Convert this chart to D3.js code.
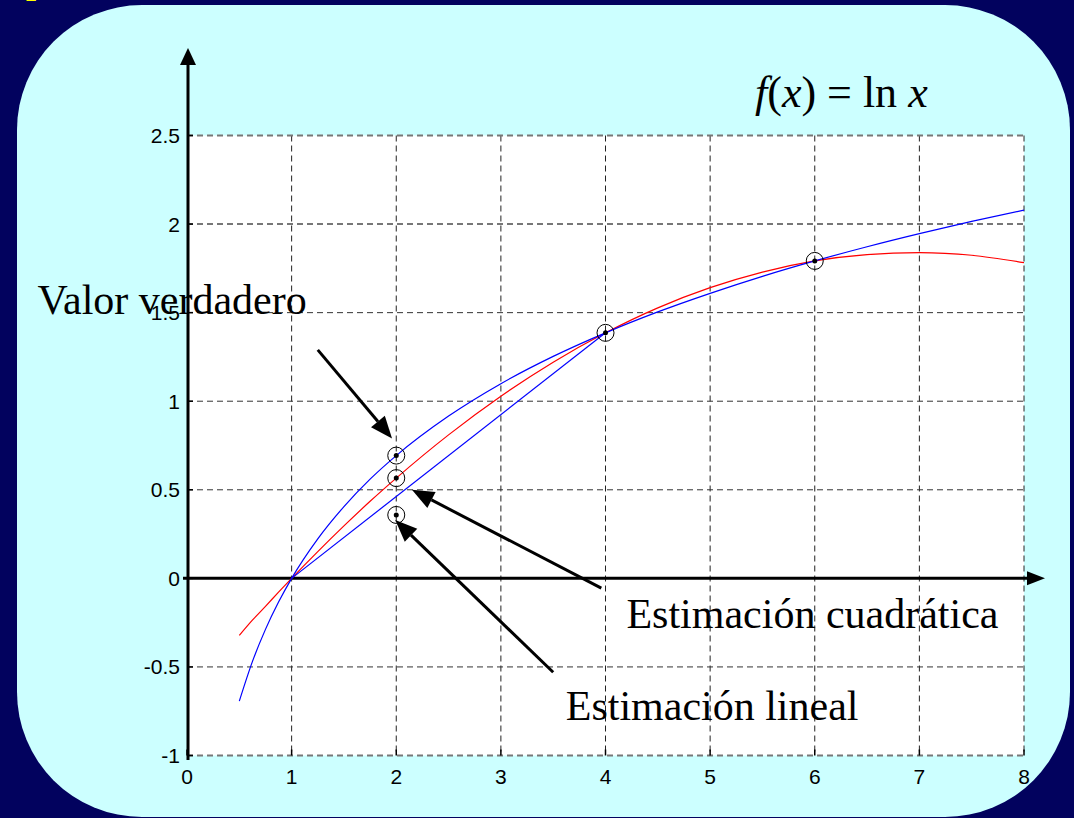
<!DOCTYPE html>
<html>
<head>
<meta charset="utf-8">
<script src="https://cdn.jsdelivr.net/npm/d3@7"></script>
<style>
  html, body { margin: 0; padding: 0; background: #02025e; }
  svg { display: block; }
</style>
</head>
<body>
<div id="chart"></div>
<script>
// sampled x positions
const xs = [0.5, 0.625, 0.75, 0.875, 1, 1.25, 1.5, 1.75, 2, 2.5, 3, 3.5, 4, 4.5, 5, 5.5, 6, 6.5, 7, 7.5, 8];
// true value ln x (blue curve)
const lnVals = [-0.693, -0.470, -0.288, -0.134, 0, 0.223, 0.405, 0.560, 0.693, 0.916, 1.099, 1.253, 1.386, 1.504, 1.609, 1.705, 1.792, 1.872, 1.946, 2.015, 2.079];
// quadratic estimate (red curve)
const quadVals = [-0.322, -0.236, -0.158, -0.078, 0, 0.151, 0.296, 0.435, 0.566, 0.810, 1.028, 1.220, 1.386, 1.527, 1.641, 1.729, 1.792, 1.828, 1.839, 1.824, 1.782];
// linear estimate (blue straight line)
const linX = [1, 4];
const linVals = [0, 1.386];
// marked points
const ptX = [2, 2, 2, 4, 6];
const ptY = [0.693, 0.566, 0.358, 1.386, 1.792];

const xTicks = [0, 1, 2, 3, 4, 5, 6, 7, 8];
const yTicks = [-1, -0.5, 0, 0.5, 1, 1.5, 2, 2.5];

// annotations: text + arrow (data coordinates)
const labels = ['Valor verdadero', 'Estimación cuadrática', 'Estimación lineal'];
const labelX = [-1.43, 4.2, 3.62];
const labelY = [1.49, -0.28, -0.8];
const arrowFrom = [[1.25, 1.29], [3.96, -0.055], [3.50, -0.53]];
const arrowTo = [[1.96, 0.79], [2.15, 0.50], [1.99, 0.33]];

const W = 1074, H = 818;
const svg = d3.select('#chart').append('svg')
  .attr('width', W)
  .attr('height', H);

// background and rounded panel
svg.append('rect').attr('width', W).attr('height', H).attr('fill', '#02025e');
svg.append('text')
  .attr('x', 26).attr('y', -7)
  .attr('font-family', 'Liberation Serif')
  .attr('font-size', 36)
  .attr('font-weight', 'bold')
  .attr('fill', '#ffff00')
  .text('p');
svg.append('rect')
  .attr('x', 17).attr('y', 5)
  .attr('width', 1053).attr('height', 812)
  .attr('rx', 125).attr('ry', 125)
  .attr('fill', '#ccffff');

const x = d3.scaleLinear().domain([0, 8]).range([187, 1024]);
const y = d3.scaleLinear().domain([-1, 2.5]).range([755.5, 135.5]);

// plot area
svg.append('rect')
  .attr('x', x(0)).attr('y', y(2.5))
  .attr('width', x(8) - x(0)).attr('height', y(-1) - y(2.5))
  .attr('fill', '#ffffff');

// grid
const grid = svg.append('g');
grid.selectAll('.vg').data(xTicks.slice(1)).enter().append('line')
  .attr('x1', d => x(d)).attr('x2', d => x(d))
  .attr('y1', y(2.5)).attr('y2', y(-1))
  .attr('stroke', '#222').attr('stroke-width', 1)
  .attr('stroke-dasharray', '6,4');
grid.selectAll('.hg').data(yTicks).enter().append('line')
  .attr('x1', x(0)).attr('x2', x(8))
  .attr('y1', d => y(d)).attr('y2', d => y(d))
  .attr('stroke', d => (d === -1 || d === 2.5 || d === 2) ? '#777' : '#333')
  .attr('stroke-width', d => (d === -1 || d === 2.5 || d === 2) ? 2 : 1)
  .attr('stroke-dasharray', '6,4');

// inward ticks
svg.selectAll('.xt').data(xTicks).enter().append('line')
  .attr('x1', d => x(d)).attr('x2', d => x(d))
  .attr('y1', y(-1)).attr('y2', y(-1) - 6)
  .attr('stroke', '#000').attr('stroke-width', 1.5);
svg.selectAll('.yt').data(yTicks).enter().append('line')
  .attr('x1', x(0)).attr('x2', x(0) + 6)
  .attr('y1', d => y(d)).attr('y2', d => y(d))
  .attr('stroke', '#000').attr('stroke-width', 1.5);

// tick labels
svg.selectAll('.xl').data(xTicks).enter().append('text')
  .attr('x', d => x(d)).attr('y', 784)
  .attr('text-anchor', 'middle')
  .attr('font-family', 'Liberation Sans, Arial')
  .attr('font-size', 21)
  .text(d => d);
svg.selectAll('.yl').data(yTicks).enter().append('text')
  .attr('x', 180).attr('y', d => y(d) + 7.5)
  .attr('text-anchor', 'end')
  .attr('font-family', 'Liberation Sans, Arial')
  .attr('font-size', 21)
  .text(d => d);

// axes with arrows
svg.append('line')
  .attr('x1', 183).attr('x2', 1030)
  .attr('y1', y(0)).attr('y2', y(0))
  .attr('stroke', '#000').attr('stroke-width', 3);
svg.append('path')
  .attr('d', `M1045,${y(0)} L1027,${y(0) - 7} L1027,${y(0) + 7} Z`)
  .attr('fill', '#000');
svg.append('line')
  .attr('x1', x(0) + 1).attr('x2', x(0) + 1)
  .attr('y1', 760).attr('y2', 62)
  .attr('stroke', '#000').attr('stroke-width', 3);
svg.append('path')
  .attr('d', `M${x(0) + 1},48 L${x(0) - 7},65 L${x(0) + 9},65 Z`)
  .attr('fill', '#000');

// curves
const line = d3.line().x(d => x(d[0])).y(d => y(d[1])).curve(d3.curveMonotoneX);
svg.append('path')
  .attr('d', line(xs.map((v, i) => [v, quadVals[i]])))
  .attr('fill', 'none').attr('stroke', '#ff0000').attr('stroke-width', 1.2);
svg.append('path')
  .attr('d', line(xs.map((v, i) => [v, lnVals[i]])))
  .attr('fill', 'none').attr('stroke', '#0000ff').attr('stroke-width', 1.2);
svg.append('path')
  .attr('d', d3.line().x(d => x(d[0])).y(d => y(d[1]))(linX.map((v, i) => [v, linVals[i]])))
  .attr('fill', 'none').attr('stroke', '#0000ff').attr('stroke-width', 1.2);

// marked points
const pts = ptX.map((v, i) => [v, ptY[i]]);
svg.selectAll('.pc').data(pts).enter().append('circle')
  .attr('cx', d => x(d[0])).attr('cy', d => y(d[1]))
  .attr('r', 8.5)
  .attr('fill', 'none').attr('stroke', '#000').attr('stroke-width', 1);
svg.selectAll('.pd').data(pts).enter().append('circle')
  .attr('cx', d => x(d[0])).attr('cy', d => y(d[1]))
  .attr('r', 2.5)
  .attr('fill', '#000');

// formula
const f = svg.append('text')
  .attr('x', 755).attr('y', 107)
  .attr('font-family', 'Liberation Serif, Times New Roman')
  .attr('font-size', 44);
f.append('tspan').attr('font-style', 'italic').text('f');
f.append('tspan').text('(');
f.append('tspan').attr('font-style', 'italic').text('x');
f.append('tspan').text(') = ln ');
f.append('tspan').attr('font-style', 'italic').text('x');

// annotation arrows
arrowFrom.forEach((a, i) => {
  const x1 = x(a[0]), y1 = y(a[1]);
  const x2 = x(arrowTo[i][0]), y2 = y(arrowTo[i][1]);
  const ang = Math.atan2(y2 - y1, x2 - x1);
  const hl = 22, hw = 9;
  const bx = x2 - hl * Math.cos(ang), by = y2 - hl * Math.sin(ang);
  svg.append('line')
    .attr('x1', x1).attr('y1', y1).attr('x2', bx).attr('y2', by)
    .attr('stroke', '#000').attr('stroke-width', 3);
  const px = -Math.sin(ang) * hw, py = Math.cos(ang) * hw;
  svg.append('path')
    .attr('d', `M${x2},${y2} L${bx + px},${by + py} L${bx - px},${by - py} Z`)
    .attr('fill', '#000');
});

// annotation labels
svg.selectAll('.lab').data(labels).enter().append('text')
  .attr('x', (d, i) => x(labelX[i])).attr('y', (d, i) => y(labelY[i]))
  .attr('font-family', 'Liberation Serif, Times New Roman')
  .attr('font-size', 42)
  .attr('fill', '#000')
  .text(d => d);
</script>
</body>
</html>
